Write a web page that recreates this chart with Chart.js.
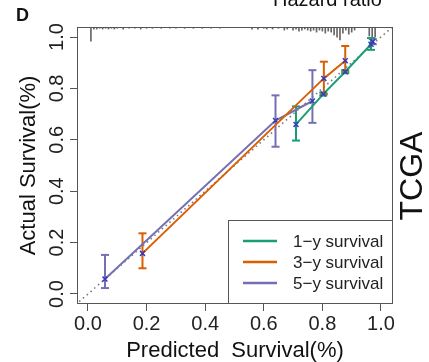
<!DOCTYPE html>
<html>
<head>
<meta charset="utf-8">
<script src="https://cdn.jsdelivr.net/npm/chart.js@4/dist/chart.umd.min.js"></script>
<style>
  html, body { margin: 0; padding: 0; background: #fff; }
</style>
</head>
<body>
<canvas id="cal" width="429" height="362"></canvas>
<script>
const seriesLabels = ["1\u2212y survival", "3\u2212y survival", "5\u2212y survival"];
const seriesColors = ["#1b9e77", "#d95f02", "#7570b3"];
const markColor = "#3a3ab8";

// predicted vs observed, with error bar ends
const pred1y = [0.710, 0.803, 0.878, 0.966];
const obs1y  = [0.660, 0.778, 0.865, 0.972];
const lo1y   = [0.597, 0.772, 0.859, 0.950];
const hi1y   = [0.730, 0.784, 0.871, 0.996];

const pred3y = [0.186, 0.805, 0.878];
const obs3y  = [0.158, 0.839, 0.908];
const lo3y   = [0.100, 0.778, 0.865];
const hi3y   = [0.236, 0.904, 0.965];

const pred5y = [0.058, 0.640, 0.766, 0.972];
const obs5y  = [0.058, 0.675, 0.751, 0.982];
const lo5y   = [0.023, 0.573, 0.666, 0.972];
const hi5y   = [0.152, 0.773, 0.871, 0.992];
const gapAfter5y = [2];

// spikes along the top edge (distribution of predictions)
const rugX   = [0.010, 0.020, 0.030, 0.040, 0.050, 0.060, 0.070, 0.080, 0.090, 0.100, 0.120, 0.140, 0.160, 0.180, 0.200,
                0.220, 0.250, 0.280, 0.300, 0.330, 0.360, 0.390, 0.420, 0.450,
                0.560, 0.580, 0.600, 0.610, 0.630, 0.650, 0.670, 0.680, 0.700, 0.710, 0.720, 0.730, 0.740, 0.750,
                0.760, 0.770, 0.780, 0.790, 0.800, 0.810, 0.820, 0.830, 0.840, 0.850, 0.860, 0.870, 0.880, 0.890,
                0.900, 0.910, 0.960, 0.970, 0.980];
const rugLen = [0.055, 0.008, 0.008, 0.005, 0.008, 0.005, 0.008, 0.005, 0.008, 0.005, 0.008, 0.005, 0.005, 0.008, 0.005,
                0.005, 0.005, 0.005, 0.005, 0.005, 0.005, 0.005, 0.005, 0.005,
                0.008, 0.008, 0.005, 0.008, 0.008, 0.005, 0.012, 0.008, 0.012, 0.008, 0.016, 0.012, 0.008, 0.012,
                0.016, 0.012, 0.020, 0.012, 0.016, 0.024, 0.016, 0.020, 0.031, 0.040, 0.050, 0.024, 0.012, 0.028,
                0.020, 0.012, 0.035, 0.040, 0.040];

const diagX = [-0.03, 1.05];
const tickVals = [0, 0.2, 0.4, 0.6, 0.8, 1.0];
const xMin = -0.0375, xMax = 1.041, yMin = -0.039, yMax = 1.039;

const fontFam = '"Liberation Sans", Arial, sans-serif';
const datasets = [];

function addSeries(i, xs, ys, los, his, gaps) {
  const col = seriesColors[i];
  datasets.push({
    type: "line", label: seriesLabels[i], order: 1,
    data: xs.map((x, k) => ({ x: x, y: ys[k] })),
    borderColor: col, borderWidth: 2, tension: 0, fill: false,
    segment: { borderColor: c => (gaps || []).includes(c.p0DataIndex) ? "transparent" : col },
    pointStyle: "crossRot", pointRadius: 3.5, pointBorderColor: markColor,
    pointBackgroundColor: markColor, pointBorderWidth: 1.5
  });
  xs.forEach((x, k) => {
    datasets.push({
      type: "line", label: "", order: 2,
      data: [{ x: x, y: los[k] }, { x: x, y: his[k] }],
      borderColor: col, borderWidth: 2,
      pointStyle: "line", pointRadius: 4, pointBorderColor: col, pointBorderWidth: 2
    });
  });
}

addSeries(0, pred1y, obs1y, lo1y, hi1y);
addSeries(1, pred3y, obs3y, lo3y, hi3y);
addSeries(2, pred5y, obs5y, lo5y, hi5y, gapAfter5y);

datasets.push({
  type: "line", label: "", order: 3,
  data: diagX.map(v => ({ x: v, y: v })),
  borderColor: "#777", borderWidth: 1.6, borderDash: [1.5, 3.5], pointRadius: 0
});

datasets.push({
  type: "bar", label: "", order: 4,
  data: rugX.map((x, k) => ({ x: x, y: [yMax - rugLen[k], yMax] })),
  backgroundColor: "#666", barThickness: 1
});

const decor = {
  id: "decor",
  afterDraw(chart) {
    const { ctx, chartArea: a, scales: { y } } = chart;
    ctx.save();
    // frame
    ctx.strokeStyle = "#555";
    ctx.lineWidth = 1;
    ctx.strokeRect(Math.round(a.left) + 0.5, Math.round(a.top) + 0.5,
                   Math.round(a.right - a.left) - 1, Math.round(a.bottom - a.top) - 1);

    // rotated y tick labels
    ctx.fillStyle = "#222";
    ctx.font = "20px " + fontFam;
    ctx.textAlign = "center";
    ctx.textBaseline = "alphabetic";
    y.ticks.forEach(t => {
      ctx.save();
      ctx.translate(63, y.getPixelForValue(t.value));
      ctx.rotate(-Math.PI / 2);
      ctx.fillText(t.value.toFixed(1), 0, 0);
      ctx.restore();
    });

    // legend
    const lx = 228, ly = 220, lw = a.right - lx, lh = a.bottom - ly;
    ctx.fillStyle = "#fff";
    ctx.fillRect(lx, ly, lw, lh);
    ctx.strokeStyle = "#555";
    ctx.strokeRect(lx + 0.5, ly + 0.5, lw - 1, lh - 1);
    ctx.font = "17px " + fontFam;
    ctx.textAlign = "left";
    ctx.textBaseline = "middle";
    seriesLabels.forEach((lab, i) => {
      const yy = ly + 21 + i * 21;
      ctx.strokeStyle = seriesColors[i];
      ctx.lineWidth = 2.5;
      ctx.beginPath();
      ctx.moveTo(lx + 15, yy);
      ctx.lineTo(lx + 49, yy);
      ctx.stroke();
      ctx.fillStyle = "#222";
      ctx.fillText(lab, lx + 65, yy + 1);
    });

    // panel letter, cut-off heading, side label
    ctx.fillStyle = "#111";
    ctx.textBaseline = "alphabetic";
    ctx.font = "bold 18px " + fontFam;
    ctx.fillText("D", 16, 21);
    ctx.font = "20px " + fontFam;
    ctx.fillText("Hazard ratio", 273, 6);
    ctx.save();
    ctx.translate(422, 176);
    ctx.rotate(-Math.PI / 2);
    ctx.textAlign = "center";
    ctx.font = "32px " + fontFam;
    ctx.fillText("TCGA", 0, 0);
    ctx.restore();
    ctx.restore();
  }
};

new Chart(document.getElementById("cal"), {
  type: "scatter",
  data: { datasets: datasets },
  options: {
    responsive: false,
    devicePixelRatio: 1,
    animation: false,
    layout: { padding: { left: 0, right: 36, top: 27, bottom: 0 } },
    plugins: { legend: { display: false }, tooltip: { enabled: false } },
    scales: {
      x: {
        type: "linear", min: xMin, max: xMax, offset: false,
        afterBuildTicks: s => { s.ticks = tickVals.map(v => ({ value: v })); },
        afterFit: s => { s.height = 58; },
        grid: { offset: false, drawOnChartArea: false, tickLength: 7, tickColor: "#555", color: "#555" },
        border: { display: false },
        ticks: { color: "#222", padding: 1, maxRotation: 0, font: { family: fontFam, size: 20 },
                 callback: v => v.toFixed(1) },
        title: { display: true, text: "Predicted  Survival(%)", color: "#111",
                 font: { family: fontFam, size: 22, lineHeight: 1 }, padding: { top: 0, bottom: 0 } }
      },
      y: {
        type: "linear", min: yMin, max: yMax, offset: false,
        afterBuildTicks: s => { s.ticks = tickVals.map(v => ({ value: v })); },
        afterFit: s => { s.width = 77; },
        grid: { offset: false, drawOnChartArea: false, tickLength: 7, tickColor: "#555", color: "#555" },
        border: { display: false },
        ticks: { color: "transparent", font: { family: fontFam, size: 20 } },
        title: { display: true, text: "Actual Survival(%)", color: "#111",
                 font: { family: fontFam, size: 22, lineHeight: 1 }, padding: { top: 18, bottom: 0 } }
      }
    }
  },
  plugins: [decor]
});
</script>
</body>
</html>
